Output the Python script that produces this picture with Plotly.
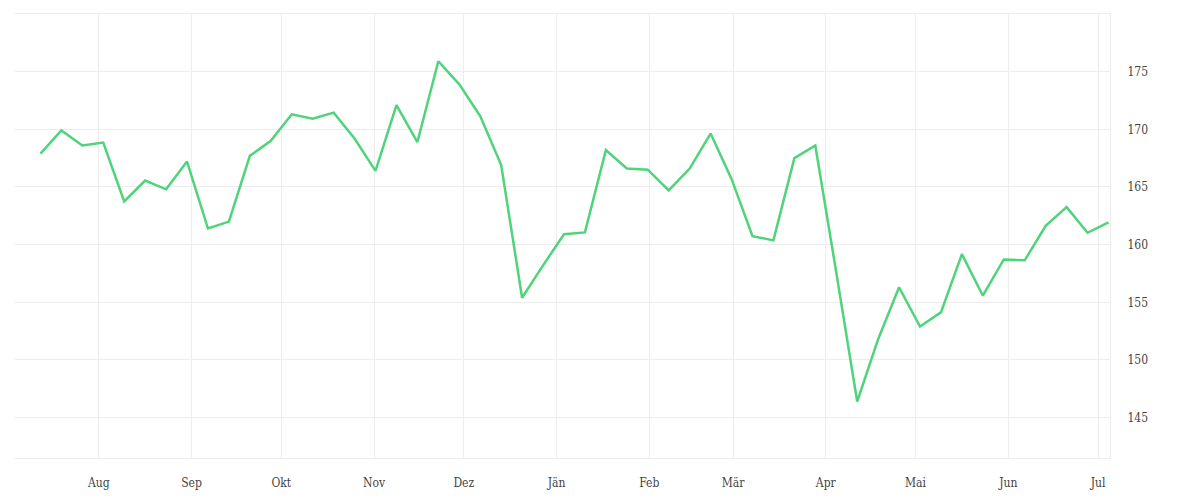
import pandas as pd
import plotly.graph_objects as go

start_date = "2022-07-12 12:00"
n_weeks = 52
values = [
    167.9, 169.9, 168.6, 168.85, 163.75, 165.56, 164.8, 167.2, 161.4, 162.0,
    167.7, 169.0, 171.3, 170.93, 171.45, 169.2, 166.4, 172.1, 168.9, 175.9,
    173.9, 171.15, 166.9, 155.4, 158.2, 160.9, 161.06, 168.2, 166.6, 166.5,
    164.7, 166.6, 169.63, 165.7, 160.74, 160.37, 167.5, 168.6, 157.6, 146.4,
    151.8, 156.3, 152.9, 154.13, 159.18, 155.57, 158.72, 158.64, 161.63, 163.25,
    161.03, 161.93,
]
dates = pd.date_range(start_date, periods=n_weeks, freq="7D")

x_range = ["2022-07-04", "2023-07-05"]
month_ticks = ["2022-08-01", "2022-09-01", "2022-10-01", "2022-11-01", "2022-12-01",
               "2023-01-01", "2023-02-01", "2023-03-01", "2023-04-01", "2023-05-01",
               "2023-06-01", "2023-07-01"]
month_labels = ["Aug", "Sep", "Okt", "Nov", "Dez", "Jän", "Feb", "Mär", "Apr", "Mai", "Jun", "Jul"]
y_ticks = [145, 150, 155, 160, 165, 170, 175]

fig = go.Figure(go.Scatter(
    x=dates, y=values, mode="lines",
    line=dict(color="#4fd37b", width=2.5),
    hoverinfo="x+y",
))

grid = "#ededed"
fig.update_layout(
    width=1184, height=484,
    margin=dict(l=7, r=82, t=6, b=34),
    plot_bgcolor="white", paper_bgcolor="white",
    showlegend=False,
    font=dict(family="DejaVu Serif Condensed, DejaVu Serif, serif", size=12, color="#444"),
    xaxis=dict(
        range=x_range, automargin=False,
        tickvals=month_ticks, ticktext=month_labels,
        showgrid=True, gridcolor=grid, gridwidth=1,
        showline=True, linecolor=grid, linewidth=1, mirror=True,
        ticks="", zeroline=False, ticklabelstandoff=14,
    ),
    yaxis=dict(
        side="right", range=[141.5, 180], automargin=False,
        tickvals=y_ticks,
        showgrid=True, gridcolor=grid, gridwidth=1,
        showline=True, linecolor=grid, linewidth=1,
        ticks="", zeroline=False, ticklabelstandoff=14,
    ),
)

fig.write_html("out.html")
